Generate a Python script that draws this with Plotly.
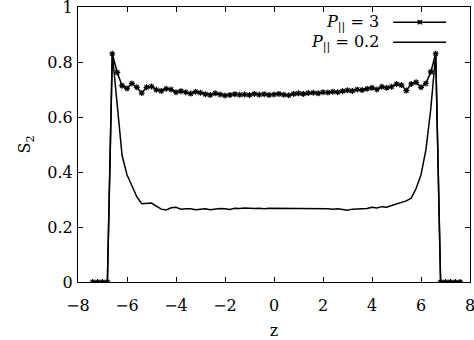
import plotly.graph_objects as go

z = [-7.4, -7.2, -7.0, -6.8, -6.6, -6.4, -6.2, -6.0, -5.8, -5.6,
     -5.4, -5.2, -5.0, -4.8, -4.6, -4.4, -4.2, -4.0, -3.8, -3.6,
     -3.4, -3.2, -3.0, -2.8, -2.6, -2.4, -2.2, -2.0, -1.8, -1.6,
     -1.4, -1.2, -1.0, -0.8, -0.6, -0.4, -0.2, 0.0, 0.2, 0.4,
     0.6, 0.8, 1.0, 1.2, 1.4, 1.6, 1.8, 2.0, 2.2, 2.4,
     2.6, 2.8, 3.0, 3.2, 3.4, 3.6, 3.8, 4.0, 4.2, 4.4,
     4.6, 4.8, 5.0, 5.2, 5.4, 5.6, 5.8, 6.0, 6.2, 6.4,
     6.6, 6.8, 7.0, 7.2, 7.4, 7.6]

s2_p3 = [0, 0, 0, 0, 0.830, 0.762, 0.714, 0.704, 0.722, 0.708,
         0.687, 0.708, 0.711, 0.699, 0.695, 0.703, 0.700, 0.690, 0.694, 0.690,
         0.685, 0.692, 0.688, 0.683, 0.680, 0.686, 0.682, 0.678, 0.680, 0.683,
         0.681, 0.682, 0.680, 0.684, 0.681, 0.683, 0.680, 0.682, 0.684, 0.681,
         0.679, 0.684, 0.686, 0.684, 0.687, 0.688, 0.686, 0.690, 0.689, 0.692,
         0.690, 0.694, 0.697, 0.695, 0.700, 0.698, 0.703, 0.706, 0.700, 0.710,
         0.706, 0.710, 0.720, 0.716, 0.696, 0.720, 0.726, 0.708, 0.722, 0.764,
         0.830, 0, 0, 0, 0, 0]

s2_p02 = [0, 0, 0, 0, 0.830, 0.630, 0.460, 0.390, 0.350, 0.310,
          0.285, 0.285, 0.287, 0.276, 0.265, 0.262, 0.270, 0.272, 0.265, 0.266,
          0.266, 0.263, 0.264, 0.266, 0.263, 0.266, 0.267, 0.266, 0.264, 0.268,
          0.267, 0.269, 0.267, 0.267, 0.268, 0.266, 0.268, 0.268, 0.267, 0.268,
          0.266, 0.267, 0.268, 0.267, 0.266, 0.267, 0.268, 0.267, 0.266, 0.265,
          0.266, 0.264, 0.261, 0.265, 0.266, 0.265, 0.267, 0.272, 0.269, 0.274,
          0.272, 0.278, 0.283, 0.288, 0.295, 0.305, 0.340, 0.390, 0.480, 0.630,
          0.830, 0, 0, 0, 0, 0]

x_ticks = [-8, -6, -4, -2, 0, 2, 4, 6, 8]
y_ticks = [0, 0.2, 0.4, 0.6, 0.8, 1]
y_tick_text = ["0", "0.2", "0.4", "0.6", "0.8", "1"]
legend_labels = ["<i>P</i><sub>||</sub> = 3", "<i>P</i><sub>||</sub> = 0.2"]

FONT = "DejaVu Serif"
FS = 16

fig = go.Figure()
fig.add_trace(go.Scatter(
    x=z, y=s2_p3, mode="lines+markers", name=legend_labels[0],
    line=dict(color="black", width=1.5),
    marker=dict(symbol="asterisk-open", size=5, color="black",
                line=dict(color="black", width=1.2)),
    showlegend=False))
fig.add_trace(go.Scatter(
    x=z, y=s2_p02, mode="lines", name=legend_labels[1],
    line=dict(color="black", width=1.5), showlegend=False))

# gnuplot-style key: text on the left, sample on the right
key_y = [0.945, 0.872]
for label, ky in zip(legend_labels, key_y):
    fig.add_annotation(x=0.772, y=ky, xref="paper", yref="paper",
                       text=label, showarrow=False, xanchor="right",
                       yanchor="middle", font=dict(size=FS, color="black", family=FONT))
    fig.add_shape(type="line", xref="paper", yref="paper",
                  x0=0.804, x1=0.939, y0=ky, y1=ky,
                  line=dict(color="black", width=1.5))
# marker sample in key for first series
mx, my = 0.872, key_y[0]
dx, dy = 0.006, 0.008
for (a, b, c, d) in [(-dx, 0, dx, 0), (0, -dy, 0, dy), (-dx, -dy, dx, dy), (-dx, dy, dx, -dy)]:
    fig.add_shape(type="line", xref="paper", yref="paper",
                  x0=mx + a, y0=my + b, x1=mx + c, y1=my + d,
                  line=dict(color="black", width=1.2))

fig.update_layout(
    width=474, height=340,
    margin=dict(l=78, r=4, t=7, b=58, autoexpand=False),
    paper_bgcolor="white", plot_bgcolor="white",
    font=dict(family=FONT, size=FS, color="black"),
)
fig.update_xaxes(
    range=[-8, 8], tickvals=x_ticks, ticks="inside", ticklen=5,
    tickwidth=1, tickcolor="black", showline=True, linecolor="black",
    linewidth=1, mirror="ticks", showgrid=False, zeroline=False,
    ticklabelstandoff=9, ticklabeloverflow="allow", automargin=False,
    title=dict(text="z", font=dict(size=FS, family=FONT), standoff=16),
)
fig.update_yaxes(
    range=[0, 1], tickvals=y_ticks, ticktext=y_tick_text, ticks="inside",
    ticklen=5, tickwidth=1, tickcolor="black", showline=True,
    linecolor="black", linewidth=1, mirror="ticks", showgrid=False,
    zeroline=False, ticklabelstandoff=1, ticklabeloverflow="allow",
    automargin=False,
    title=dict(text="S<sub>2</sub>", font=dict(size=FS, family=FONT), standoff=12),
)

fig.write_html("out.html", config={"displayModeBar": False},
               post_script="document.body.style.margin='0';")
